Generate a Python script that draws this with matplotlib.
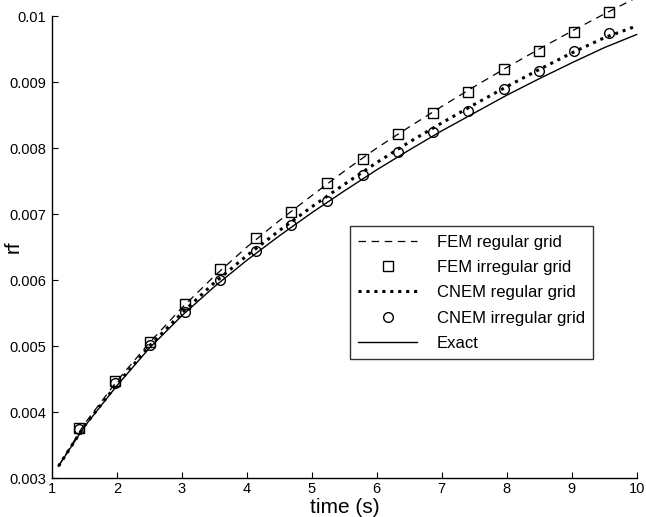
import matplotlib
matplotlib.use("Agg")
import matplotlib.pyplot as plt

plt.rcParams['font.family'] = ['Liberation Sans', 'DejaVu Sans']

# marker times (s)
t_mark = [1.41, 1.97, 2.51, 3.05, 3.59, 4.14, 4.68, 5.23,
          5.78, 6.33, 6.87, 7.41, 7.96, 8.50, 9.04, 9.58]
fem_irr = [0.00376, 0.00447, 0.00506, 0.00564, 0.00617, 0.00664, 0.00703, 0.00747,
           0.00783, 0.00821, 0.00853, 0.00885, 0.00920, 0.00947, 0.00976, 0.01006]
cnem_irr = [0.00375, 0.00444, 0.00502, 0.00552, 0.00600, 0.00644, 0.00683, 0.00720,
            0.00759, 0.00794, 0.00824, 0.00856, 0.00889, 0.00917, 0.00947, 0.00974]

# line curves
t_line = [1.1, 1.5, 2.0, 2.5, 3.0, 3.5, 4.0, 4.5, 5.0, 5.5,
          6.0, 6.5, 7.0, 7.5, 8.0, 8.5, 9.0, 9.5, 10.0]
fem_reg = [0.00318, 0.00382, 0.00447, 0.00505, 0.00558, 0.00606, 0.00650, 0.00690, 0.00728, 0.00765,
           0.00800, 0.00832, 0.00863, 0.00893, 0.00922, 0.00950, 0.00977, 0.01003, 0.01028]
cnem_reg = [0.00318, 0.00379, 0.00442, 0.00500, 0.00550, 0.00596, 0.00637, 0.00675, 0.00711, 0.00745,
            0.00778, 0.00809, 0.00838, 0.00866, 0.00893, 0.00919, 0.00944, 0.00967, 0.00985]
exact = [0.00318, 0.00378, 0.00440, 0.00497, 0.00546, 0.00590, 0.00630, 0.00667, 0.00702, 0.00735,
         0.00767, 0.00797, 0.00826, 0.00853, 0.00880, 0.00905, 0.00929, 0.00952, 0.00972]

yticks = [0.003, 0.004, 0.005, 0.006, 0.007, 0.008, 0.009, 0.01]
ytick_labels = ['0.003', '0.004', '0.005', '0.006', '0.007', '0.008', '0.009', '0.01']
xticks = [1, 2, 3, 4, 5, 6, 7, 8, 9, 10]

fig = plt.figure(figsize=(6.46, 5.17), dpi=100)
ax = fig.add_axes([0.0805, 0.0754, 0.905, 0.8936])

ax.plot(t_line, fem_reg, color='black', linestyle=(0, (6, 4.5)), linewidth=0.9,
        label='FEM regular grid', clip_on=False)
ax.plot(t_mark, fem_irr, linestyle='none', marker='s', markersize=7.5,
        markerfacecolor='none', markeredgecolor='black', markeredgewidth=1.0,
        label='FEM irregular grid', clip_on=False)
ax.plot(t_line, cnem_reg, color='black', linestyle=(0, (1, 1.6)), linewidth=2.2,
        label='CNEM regular grid', clip_on=False)
ax.plot(t_mark, cnem_irr, linestyle='none', marker='o', markersize=7,
        markerfacecolor='none', markeredgecolor='black', markeredgewidth=1.0,
        label='CNEM irregular grid', clip_on=False)
ax.plot(t_line, exact, color='black', linestyle='-', linewidth=1.0,
        label='Exact', clip_on=False)

ax.set_xlim(1, 10)
ax.set_ylim(0.003, 0.01)
ax.set_xticks(xticks)
ax.set_yticks(yticks)
ax.set_yticklabels(ytick_labels)
ax.tick_params(direction='in', length=4, width=0.8, labelsize=10.5, pad=4)
ax.tick_params(axis='x', pad=3)
for side in ['top', 'right']:
    ax.spines[side].set_visible(False)
for side in ['left', 'bottom']:
    ax.spines[side].set_linewidth(1.0)

ax.set_xlabel('time (s)', fontsize=15)
ax.xaxis.set_label_coords(0.5, -0.044)
ax.set_ylabel('rf', fontsize=15)
ax.yaxis.set_label_coords(-0.05, 0.5)

leg = ax.legend(loc='upper left', bbox_to_anchor=(0.51, 0.545), fontsize=12,
                frameon=True, fancybox=False, edgecolor='black', handlelength=3.5,
                borderpad=0.5, labelspacing=0.62, handletextpad=1.2, borderaxespad=0)
leg.get_frame().set_linewidth(1.0)

fig.savefig('out.png', dpi=100)
